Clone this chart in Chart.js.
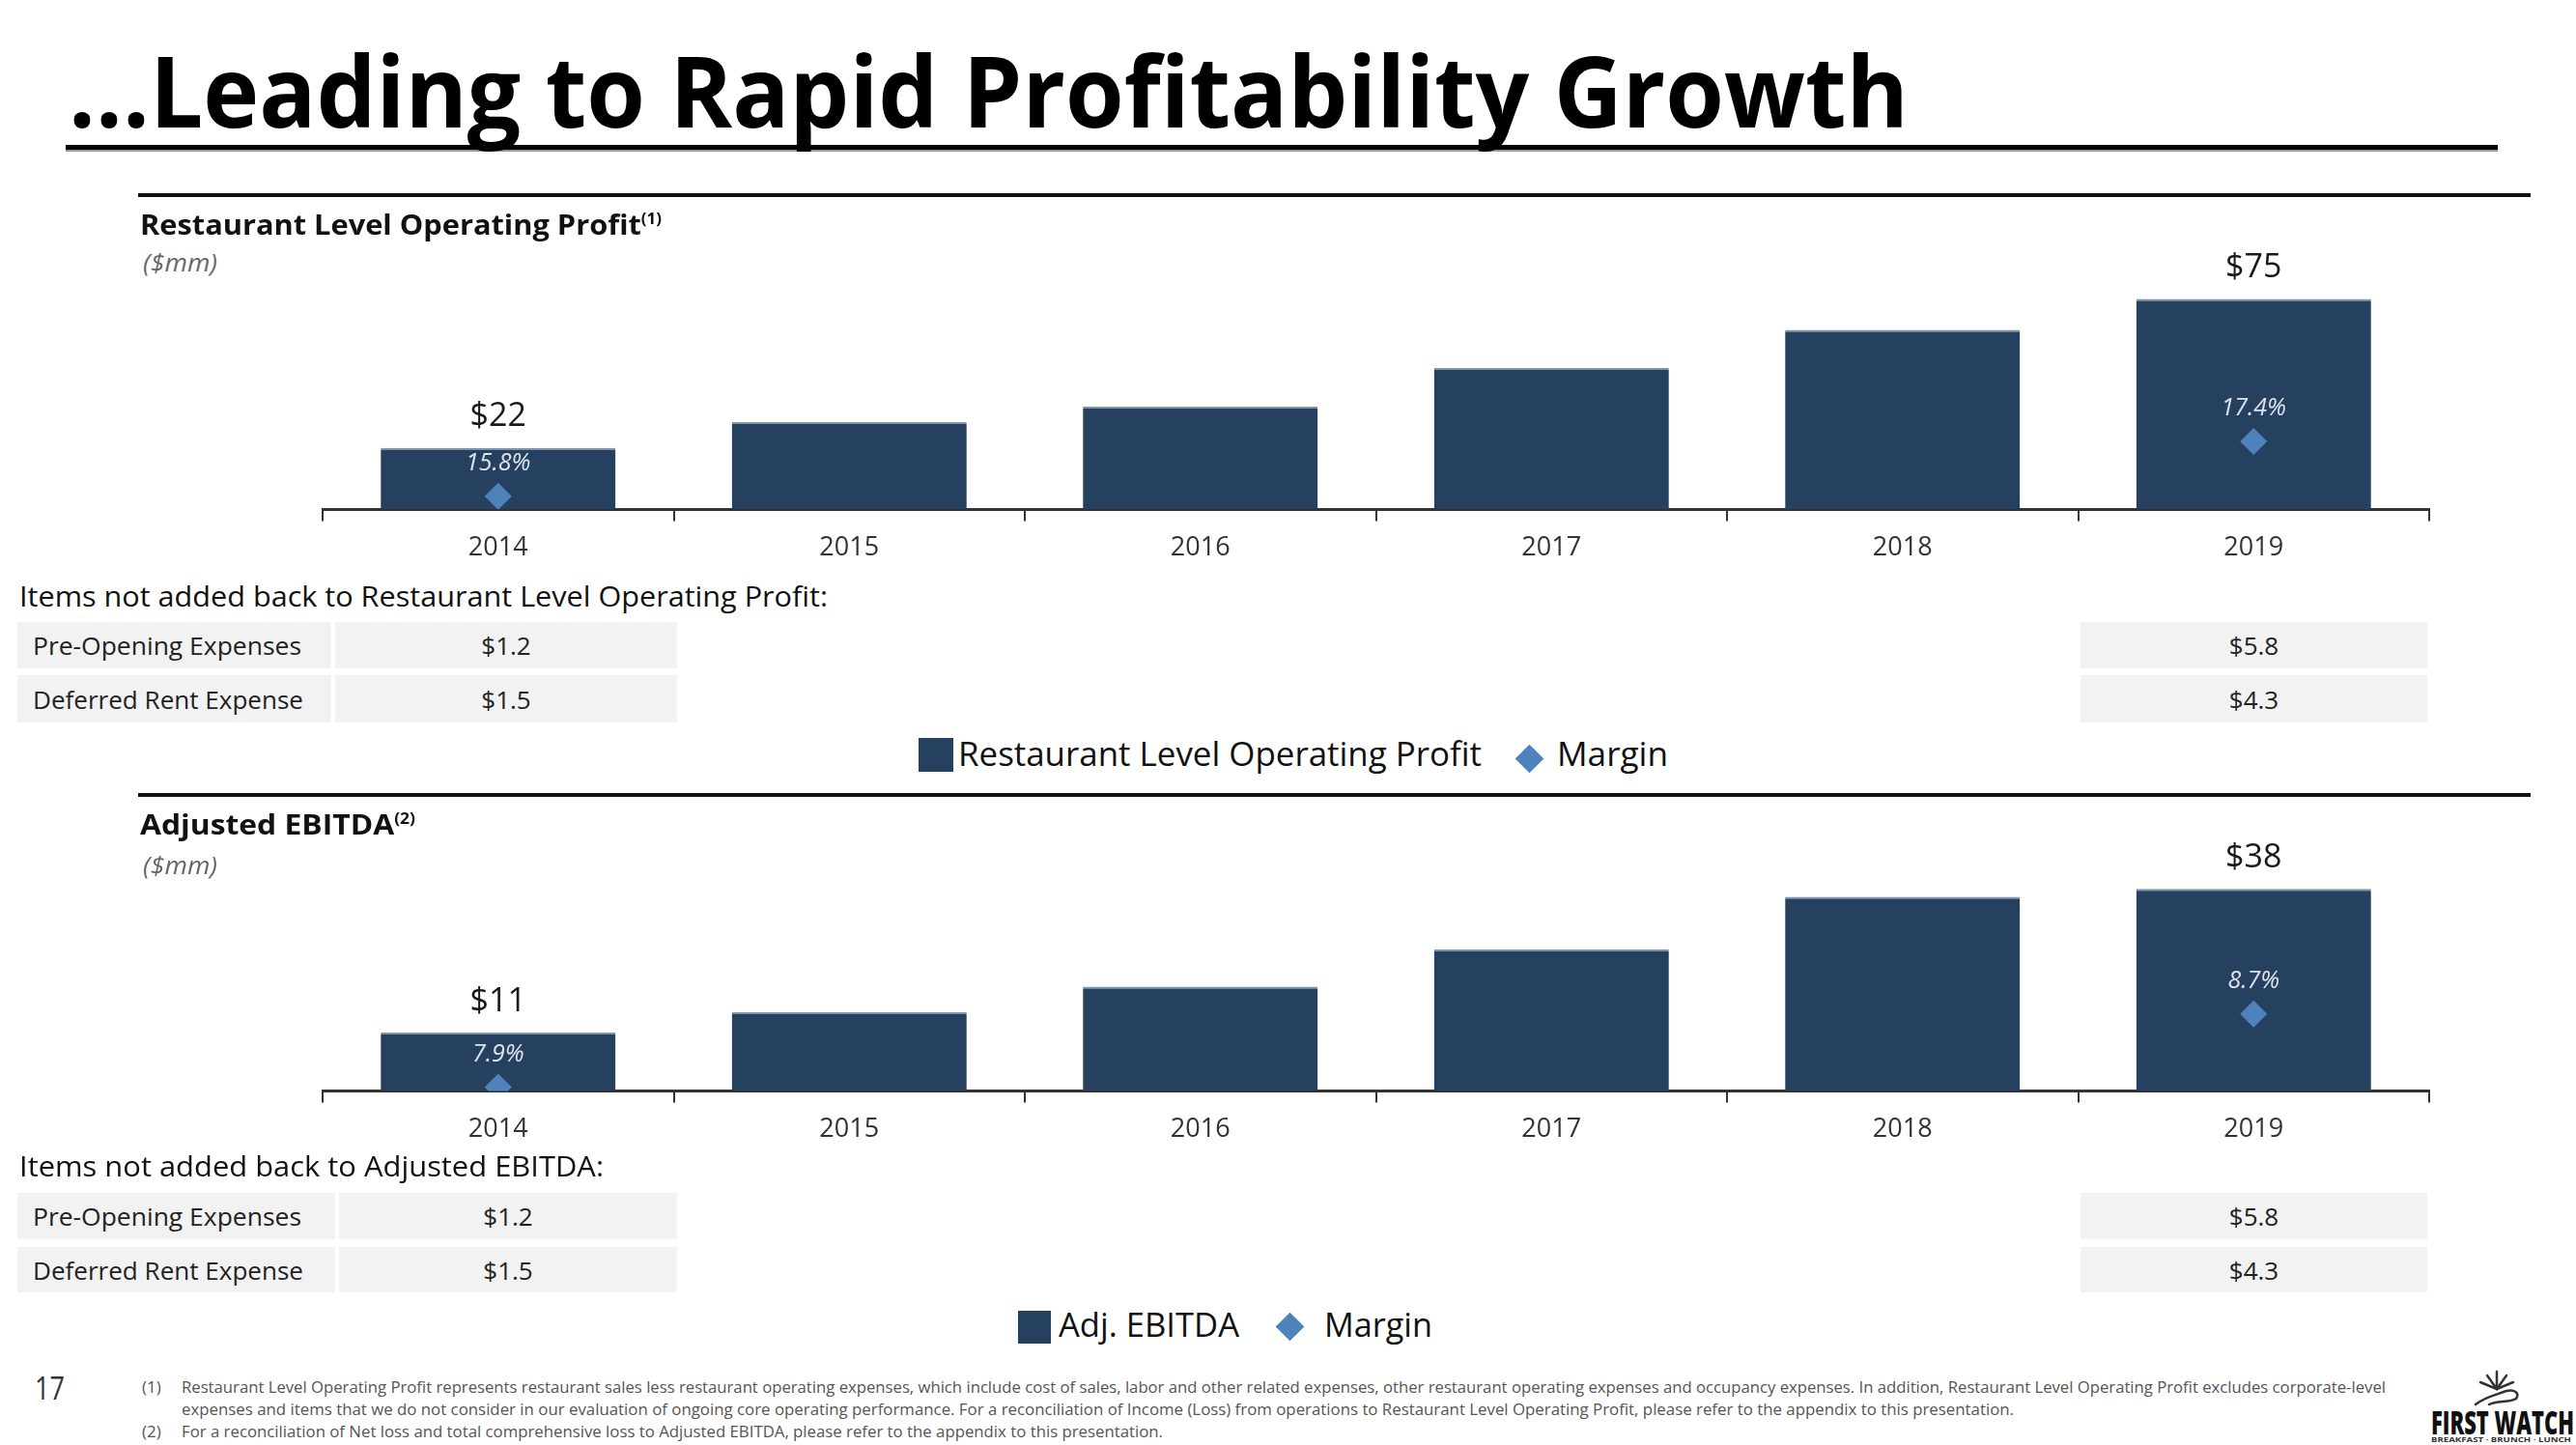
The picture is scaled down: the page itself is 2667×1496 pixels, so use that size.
<!DOCTYPE html>
<html>
<head>
<meta charset="utf-8">
<script src="https://cdn.jsdelivr.net/npm/chart.js@4.4.1/dist/chart.umd.min.js"></script>
<style>
  body { margin:0; width:2667px; height:1496px; position:relative; overflow:hidden; background:#fff; font-family:"Open Sans", sans-serif; color:#1a1a1a; }
  .t { position:absolute; white-space:nowrap; line-height:1; transform-origin:0 0; display:inline-block; z-index:2; }
  .rule { position:absolute; background:#111; }
  .cell { position:absolute; background:#f2f2f2; display:flex; align-items:center; font-size:26px; color:#222; white-space:nowrap; }
  .cell.c { justify-content:center; }
  .cell span { display:inline-block; transform-origin:0 50%; }
  .sup { font-size:0.55em; vertical-align:0.7em; }
  canvas { position:absolute; z-index:1; }
  .sq { position:absolute; background:#26405f; }
  .dia { position:absolute; width:21px; height:21px; background:#4f81bd; transform:rotate(45deg); }
  .fn { font-size:17px; color:#555; }
</style>
</head>
<body>

<div class="t" style="left:71px;top:42px;font-size:102px;font-weight:700;color:#000" data-w="1905">...Leading to Rapid Profitability Growth</div>
<div class="rule" style="left:68px;top:150px;width:2518px;height:5px;background:#000"></div>
<div class="rule" style="left:68px;top:155px;width:2518px;height:2px;background:#999"></div>

<!-- section 1 -->
<div class="rule" style="left:143px;top:200px;width:2477px;height:4px"></div>
<div class="t" style="left:145px;top:217px;font-size:29px;font-weight:700;color:#111" data-w="540">Restaurant Level Operating Profit<span class="sup">(1)</span></div>
<div class="t" style="left:148px;top:258px;font-size:26px;font-style:italic;color:#666" data-w="77">($mm)</div>
<canvas id="rlopChart" width="2209" height="370" style="left:320px;top:226px"></canvas>

<div class="t" style="left:20px;top:602px;font-size:29px;color:#111" data-w="837">Items not added back to Restaurant Level Operating Profit:</div>
<div class="cell" style="left:18px;top:644px;width:325px;height:48px;padding-left:16px;box-sizing:border-box"><span data-w="278">Pre-Opening Expenses</span></div>
<div class="cell c" style="left:347px;top:644px;width:354px;height:48px"><span>$1.2</span></div>
<div class="cell" style="left:18px;top:699px;width:325px;height:49px;padding-left:16px;box-sizing:border-box"><span data-w="280">Deferred Rent Expense</span></div>
<div class="cell c" style="left:347px;top:699px;width:354px;height:49px"><span>$1.5</span></div>
<div class="cell c" style="left:2154px;top:644px;width:359px;height:48px"><span>$5.8</span></div>
<div class="cell c" style="left:2154px;top:699px;width:359px;height:49px"><span>$4.3</span></div>

<div class="sq" style="left:951px;top:764px;width:36px;height:35px"></div>
<div class="t" style="left:992px;top:762px;font-size:35px;color:#111" data-w="542">Restaurant Level Operating Profit</div>
<div class="dia" style="left:1573px;top:775px"></div>
<div class="t" style="left:1612px;top:762px;font-size:35px;color:#111" data-w="115">Margin</div>

<!-- section 2 -->
<div class="rule" style="left:143px;top:821px;width:2477px;height:4px"></div>
<div class="t" style="left:145px;top:838px;font-size:29px;font-weight:700;color:#111" data-w="285">Adjusted EBITDA<span class="sup">(2)</span></div>
<div class="t" style="left:148px;top:882px;font-size:26px;font-style:italic;color:#666" data-w="77">($mm)</div>
<canvas id="ebitdaChart" width="2209" height="373" style="left:320px;top:825px"></canvas>

<div class="t" style="left:20px;top:1192px;font-size:29px;color:#111" data-w="605">Items not added back to Adjusted EBITDA:</div>
<div class="cell" style="left:18px;top:1235px;width:329px;height:48px;padding-left:16px;box-sizing:border-box"><span data-w="278">Pre-Opening Expenses</span></div>
<div class="cell c" style="left:351px;top:1235px;width:350px;height:48px"><span>$1.2</span></div>
<div class="cell" style="left:18px;top:1291px;width:329px;height:47px;padding-left:16px;box-sizing:border-box"><span data-w="280">Deferred Rent Expense</span></div>
<div class="cell c" style="left:351px;top:1291px;width:350px;height:47px"><span>$1.5</span></div>
<div class="cell c" style="left:2154px;top:1235px;width:359px;height:48px"><span>$5.8</span></div>
<div class="cell c" style="left:2154px;top:1291px;width:359px;height:47px"><span>$4.3</span></div>

<div class="sq" style="left:1054px;top:1357px;width:34px;height:34px"></div>
<div class="t" style="left:1096px;top:1353px;font-size:35px;color:#111" data-w="187">Adj. EBITDA</div>
<div class="dia" style="left:1325px;top:1363px"></div>
<div class="t" style="left:1371px;top:1353px;font-size:35px;color:#111" data-w="112">Margin</div>

<!-- footer -->
<div class="t" style="left:36px;top:1421px;font-size:32px;color:#333" data-w="31">17</div>
<div class="t fn" style="left:147px;top:1427px">(1)</div>
<div class="t fn" style="left:188px;top:1427px" data-w="2282">Restaurant Level Operating Profit represents restaurant sales less restaurant operating expenses, which include cost of sales, labor and other related expenses, other restaurant operating expenses and occupancy expenses. In addition, Restaurant Level Operating Profit excludes corporate-level</div>
<div class="t fn" style="left:188px;top:1450px" data-w="1897">expenses and items that we do not consider in our evaluation of ongoing core operating performance. For a reconciliation of Income (Loss) from operations to Restaurant Level Operating Profit, please refer to the appendix to this presentation.</div>
<div class="t fn" style="left:147px;top:1473px">(2)</div>
<div class="t fn" style="left:188px;top:1473px" data-w="1016">For a reconciliation of Net loss and total comprehensive loss to Adjusted EBITDA, please refer to the appendix to this presentation.</div>

<svg style="position:absolute;left:2555px;top:1416px" width="64" height="42" viewBox="0 0 64 42">
  <g stroke="#333" stroke-width="2.5" fill="none" stroke-linecap="round">
    <line x1="30" y1="22" x2="30" y2="4"/><line x1="30" y1="22" x2="20" y2="8"/><line x1="30" y1="22" x2="40" y2="8"/>
    <line x1="30" y1="22" x2="13" y2="15"/><line x1="30" y1="22" x2="47" y2="15"/>
    <path d="M8 38 C18 30, 30 28, 40 24 C48 22, 54 26, 50 32 C44 36, 30 34, 22 38"/>
  </g>
</svg>
<div class="t" style="left:2517px;top:1455px;font-size:34px;font-weight:800;color:#111" data-w="148">FIRST WATCH</div>
<div class="t" style="left:2517px;top:1487px;font-size:7px;font-weight:700;color:#333" data-w="145">BREAKFAST · BRUNCH · LUNCH</div>

<script>
// data
const years = ["2014", "2015", "2016", "2017", "2018", "2019"];
const rlopValues = [22, 31.2, 36.7, 50.4, 64, 75];
const rlopValueLabels = ["$22", null, null, null, null, "$75"];
const rlopMargin = [15.8, null, null, null, null, 17.4];
const rlopMarginLabels = ["15.8%", null, null, null, null, "17.4%"];

const ebitdaValues = [11, 14.8, 19.6, 26.6, 36.5, 38];
const ebitdaValueLabels = ["$11", null, null, null, null, "$38"];
const ebitdaMargin = [7.9, null, null, null, null, 8.7];
const ebitdaMarginLabels = ["7.9%", null, null, null, null, "8.7%"];

const barColor = "#26405f";
const diamondColor = "#4f81bd";

// fit HTML text widths to the slide
document.querySelectorAll("[data-w]").forEach(el => {
  const w = parseFloat(el.dataset.w);
  const nat = el.getBoundingClientRect().width;
  if (nat > 0) el.style.transform = "scaleX(" + (w / nat) + ")";
});

const labelPlugin = {
  id: "slideLabels",
  afterDatasetsDraw(chart, args, opts) {
    const ctx = chart.ctx;
    const barMeta = chart.getDatasetMeta(1);
    const dotMeta = chart.getDatasetMeta(0);
    ctx.save();
    ctx.textAlign = "center";
    ctx.textBaseline = "middle";
    ctx.font = "34px 'Open Sans'";
    ctx.fillStyle = "#1a1a1a";
    barMeta.data.forEach((bar, i) => {
      const txt = opts.valueLabels[i];
      if (txt) ctx.fillText(txt, bar.x, bar.y - 32);
    });
    ctx.font = "italic 25px 'Open Sans'";
    ctx.fillStyle = "#dce3ec";
    dotMeta.data.forEach((pt, i) => {
      const txt = opts.marginLabels[i];
      if (txt && !pt.skip) ctx.fillText(txt, pt.x, pt.y - 34);
    });
    ctx.restore();
  }
};

function makeChart(id, values, valueLabels, margin, marginLabels, yMax, y2Min, y2Max) {
  return new Chart(document.getElementById(id).getContext("2d"), {
    data: {
      labels: years,
      datasets: [
        { type: "line", data: margin, yAxisID: "y2", showLine: false, order: 0,
          pointStyle: "rectRot", pointRadius: 14, pointBackgroundColor: diamondColor, pointBorderWidth: 0 },
        { type: "bar", data: values, yAxisID: "y", order: 1, backgroundColor: barColor,
          borderColor: "#7d93ad", borderWidth: { top: 2, left: 0, right: 0, bottom: 0 }, borderSkipped: "bottom",
          categoryPercentage: 1, barPercentage: 0.669 }
      ]
    },
    options: {
      responsive: false, animation: false,
      layout: { padding: { top: 40, left: 10, right: 10, bottom: 0 } },
      plugins: { legend: { display: false }, tooltip: { enabled: false },
        slideLabels: { valueLabels, marginLabels } },
      scales: {
        x: {
          grid: { display: true, drawOnChartArea: false, drawTicks: true, tickLength: 12, color: "#333", lineWidth: 2, offset: true },
          border: { display: true, color: "#333", width: 3 },
          ticks: { color: "#333", font: { family: "Open Sans", size: 27 }, padding: 12 }
        },
        y: { display: false, min: 0, max: yMax },
        y2: { display: false, min: y2Min, max: y2Max }
      }
    },
    plugins: [labelPlugin]
  });
}

makeChart("rlopChart", rlopValues, rlopValueLabels, rlopMargin, rlopMarginLabels, 90, 15.407, 22.795);
makeChart("ebitdaChart", ebitdaValues, ebitdaValueLabels, ebitdaMargin, ebitdaMarginLabels, 48, 7.858, 10.647);
</script>
</body>
</html>
